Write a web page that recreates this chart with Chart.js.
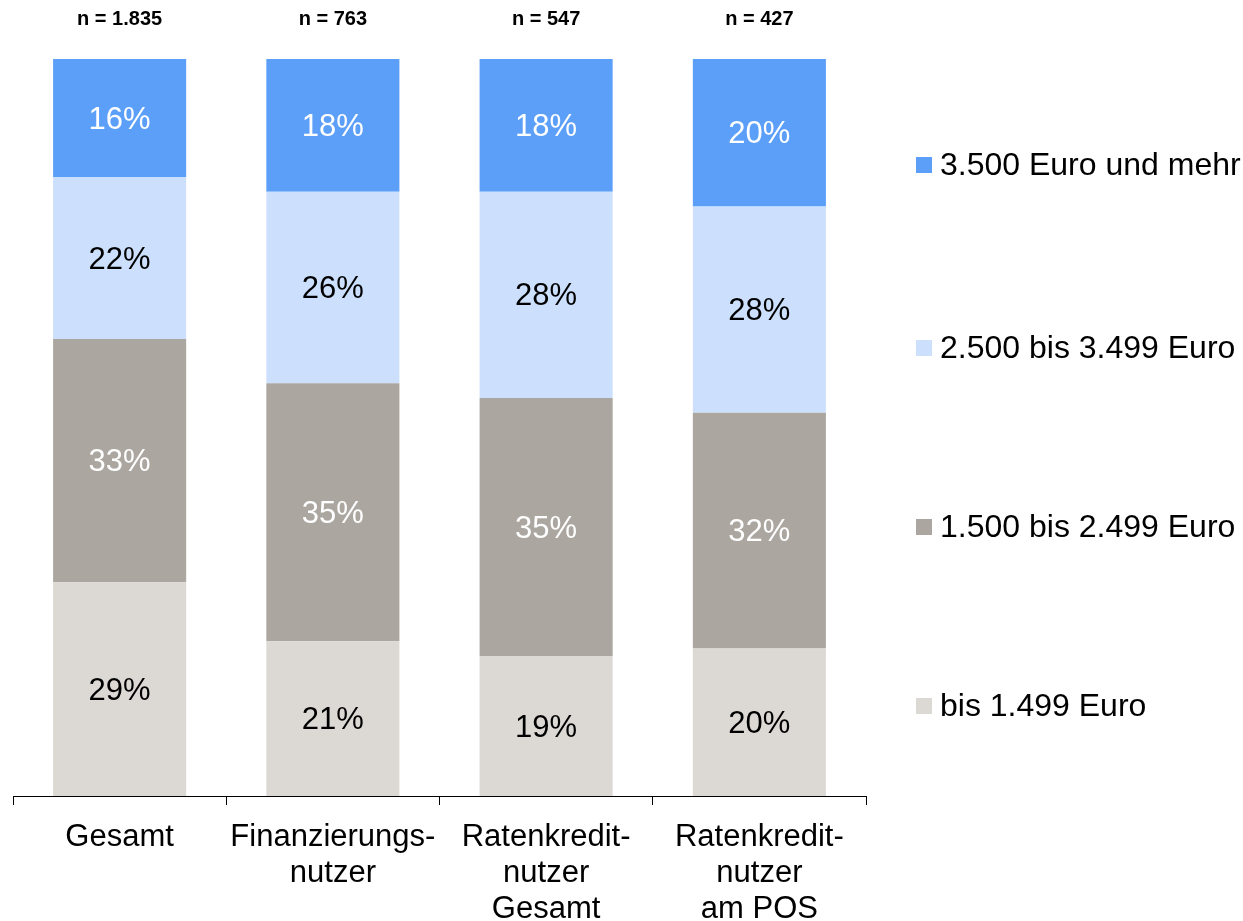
<!DOCTYPE html>
<html lang="de">

<head>
    <meta charset="UTF-8">
    <title>Haushaltsnettoeinkommen</title>
    <script src="https://cdn.jsdelivr.net/npm/chart.js"></script>
    <style>
        html, body { margin: 0; padding: 0; background: #fff; }
        .janela { width: 1243px; height: 921px; position: relative; }
    </style>
</head>

<body>
    <div class="janela">
        <canvas id="grafico"></canvas>
    </div>

<script>
    // dados
    const categorias = [
        ["Gesamt"],
        ["Finanzierungs-", "nutzer"],
        ["Ratenkredit-", "nutzer", "Gesamt"],
        ["Ratenkredit-", "nutzer", "am POS"]
    ];
    const amostras = ["n = 1.835", "n = 763", "n = 547", "n = 427"];

    const bis1499 = [29, 21, 19, 20];
    const de1500a2499 = [33, 35, 35, 32];
    const de2500a3499 = [22, 26, 28, 28];
    const acima3500 = [16, 18, 18, 20];

    const FONTE = '"Liberation Sans", Arial, sans-serif';

    const series = [
        { label: "bis 1.499 Euro", data: bis1499, cor: '#dcd9d5', texto: '#000' },
        { label: "1.500 bis 2.499 Euro", data: de1500a2499, cor: '#aba7a0', texto: '#fff' },
        { label: "2.500 bis 3.499 Euro", data: de2500a3499, cor: '#cce0fd', texto: '#000' },
        { label: "3.500 Euro und mehr", data: acima3500, cor: '#5c9ff9', texto: '#fff' }
    ];

    // rotulos dentro das barras
    const pluginRotulos = {
        id: 'rotulos',
        afterDatasetsDraw(chart) {
            const ctx = chart.ctx;
            ctx.save();
            ctx.font = '31px ' + FONTE;
            ctx.textAlign = 'center';
            ctx.textBaseline = 'middle';
            chart.data.datasets.forEach(function (ds, i) {
                chart.getDatasetMeta(i).data.forEach(function (bar, j) {
                    const meio = (bar.y + bar.base) / 2;
                    ctx.fillStyle = series[i].texto;
                    ctx.fillText(ds.data[j] + '%', bar.x, meio + 2);
                });
            });
            // n = ... em cima
            ctx.font = 'bold 20px ' + FONTE;
            ctx.fillStyle = '#000';
            chart.getDatasetMeta(0).data.forEach(function (bar, j) {
                ctx.fillText(amostras[j], bar.x, 19);
            });
            ctx.restore();
        }
    };

    // legenda na direita
    const pluginLegenda = {
        id: 'legenda',
        afterDraw(chart) {
            const ctx = chart.ctx;
            const ys = [165, 348, 527, 706];
            ctx.save();
            ctx.font = '32px ' + FONTE;
            ctx.textAlign = 'left';
            ctx.textBaseline = 'middle';
            for (let k = 0; k < 4; k++) {
                const s = series[3 - k];
                ctx.fillStyle = s.cor;
                ctx.fillRect(916, ys[k] - 8, 16, 16);
                ctx.fillStyle = '#000';
                ctx.fillText(s.label, 940, ys[k] + 1);
            }
            ctx.restore();
        }
    };

    function config() {
        return {
            type: 'bar',
            data: {
                labels: categorias,
                datasets: series.map(function (s) {
                    return {
                        label: s.label,
                        data: s.data,
                        backgroundColor: s.cor,
                        borderWidth: 0,
                        categoryPercentage: 1,
                        barPercentage: 0.624
                    };
                })
            },
            options: {
                responsive: true,
                maintainAspectRatio: false,
                animation: false,
                layout: {
                    padding: { top: 59, left: 13, right: 377, bottom: 0 }
                },
                plugins: {
                    legend: { display: false },
                    tooltip: { enabled: false }
                },
                scales: {
                    x: {
                        stacked: true,
                        grid: {
                            display: true,
                            drawOnChartArea: false,
                            drawTicks: true,
                            tickLength: 9,
                            color: '#000',
                            offset: true
                        },
                        border: { display: true, color: '#000', width: 1 },
                        ticks: {
                            color: '#000',
                            font: { family: FONTE, size: 31, lineHeight: '36px' },
                            padding: 14,
                            maxRotation: 0,
                            autoSkip: false
                        },
                        afterFit(scale) {
                            scale.height = 125;
                        }
                    },
                    y: {
                        stacked: true,
                        display: false,
                        min: 0,
                        max: 100
                    }
                }
            },
            plugins: [pluginRotulos, pluginLegenda]
        };
    }

    let myChart = new Chart(document.getElementById('grafico').getContext('2d'), config());
</script>
</body>

</html>
